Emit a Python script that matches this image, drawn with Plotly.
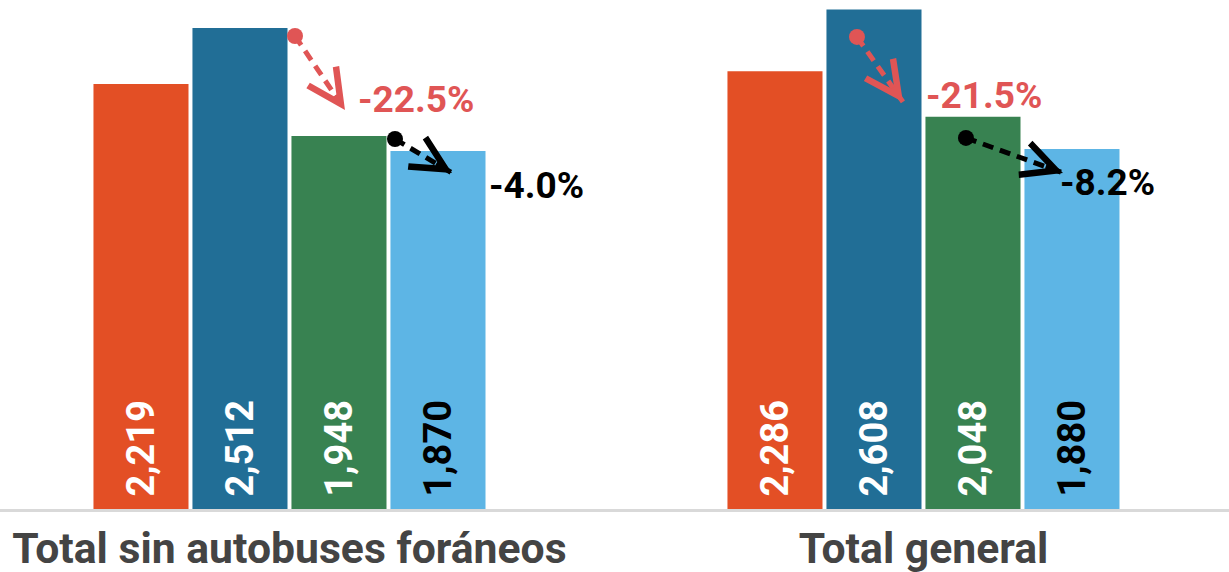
import plotly.graph_objects as go

categories = ["Total sin autobuses foráneos", "Total general"]
series_names = ["Serie 1", "Serie 2", "Serie 3", "Serie 4"]
values = {
    "Serie 1": [2219, 2286],
    "Serie 2": [2512, 2608],
    "Serie 3": [1948, 2048],
    "Serie 4": [1870, 1880],
}
colors = ["#E34F25", "#216E96", "#388251", "#5DB5E5"]
label_colors = ["white", "white", "white", "black"]

# change annotations: (start x, start y, tip x, tip y, label x, label y, text, colour)
changes = [
    (0.0087, 2470, 0.0875, 2084, 0.105, 2136, "-22.5%", "#E05555"),
    (0.1664, 1932, 0.2563, 1755, 0.3115, 1687, "-4.0%", "#000000"),
    (0.8951, 2465, 0.9676, 2126, 1.0007, 2157, "-21.5%", "#E05555"),
    (1.0670, 1938, 1.2200, 1755, 1.2129, 1703, "-8.2%", "#000000"),
]

x_pos = [0, 1]
FONT = "Roboto"

fig = go.Figure()
for name, col, lcol in zip(series_names, colors, label_colors):
    vals = values[name]
    fig.add_trace(go.Bar(
        x=x_pos, y=vals, name=name,
        marker=dict(color=col, line=dict(width=0)),
        text=["\u00a0" + f"{v:,}" for v in vals],
        textposition="inside", insidetextanchor="start", textangle=-90,
        textfont=dict(family=FONT, size=38, color=lcol, weight="bold"),
        constraintext="none",
        hoverinfo="skip",
    ))

PX_X = 634.0   # pixels per x unit
PX_Y = 509.0 / 2658.0
for (x0, y0, x1, y1, tx, ty, txt, col) in changes:
    fig.add_trace(go.Scatter(
        x=[x0, x1], y=[y0, y1], mode="lines+markers",
        line=dict(color=col, width=5, dash="11px,7px"),
        marker=dict(size=[16, 0], color=col, symbol="circle", opacity=1,
                    line=dict(width=0)),
        opacity=1,
        showlegend=False, hoverinfo="skip", cliponaxis=False,
    ))
    dxp = (x1 - x0) * PX_X
    dyp = -(y1 - y0) * PX_Y
    ln = (dxp ** 2 + dyp ** 2) ** 0.5
    k = 20.0 / ln
    fig.add_annotation(
        x=x1, y=y1, ax=-dxp * k, ay=-dyp * k, text=" ",
        font=dict(size=1), bgcolor="rgba(0,0,0,0)",
        showarrow=True, arrowhead=5, arrowsize=1.65, arrowwidth=4,
        arrowcolor=col, standoff=0, startstandoff=0,
    )
    fig.add_annotation(
        x=tx, y=ty, text=txt, showarrow=False, xanchor="left", yanchor="middle",
        font=dict(family=FONT, size=37, color=col, weight="bold"),
    )

fig.update_layout(
    width=1229, height=572,
    margin=dict(l=0, r=0, t=0, b=63),
    paper_bgcolor="white", plot_bgcolor="white",
    barmode="group", bargap=0.3754, bargroupgap=0.04,
    showlegend=False,
    xaxis=dict(
        range=[-0.4566, 1.4819], tickvals=x_pos, ticktext=categories,
        showgrid=False, zeroline=False, showline=True,
        linecolor="#D9D9D9", linewidth=3, ticks="",
        tickfont=dict(family=FONT, size=42.7, color="#444444", weight="bold"),
    ),
    yaxis=dict(range=[0, 2658], visible=False, showgrid=False, zeroline=False),
)

fig.write_html(
    "out.html",
    config={"displayModeBar": False, "staticPlot": True},
    post_script="document.body.style.margin='0';document.body.style.overflow='hidden';",
)
